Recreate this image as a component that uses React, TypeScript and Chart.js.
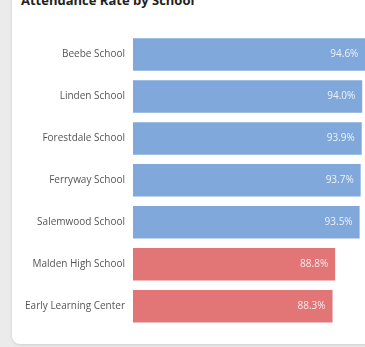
import React, { useEffect, useRef } from "react";
import { Chart, registerables } from "chart.js";

Chart.register(...registerables);

const schools = [
  "Beebe School",
  "Linden School",
  "Forestdale School",
  "Ferryway School",
  "Salemwood School",
  "Malden High School",
  "Early Learning Center",
];
const rates = [94.6, 94.0, 93.9, 93.7, 93.5, 88.8, 88.3];
const barColors = ["#80a8da", "#80a8da", "#80a8da", "#80a8da", "#80a8da", "#e27576", "#e27576"];
const axisMin = 50;
const axisMax = 100;

const valueLabels = {
  id: "valueLabels",
  afterDatasetsDraw(chart: any) {
    const ctx = chart.ctx;
    const meta = chart.getDatasetMeta(0);
    ctx.save();
    ctx.font = "10px 'Open Sans', sans-serif";
    ctx.fillStyle = "rgba(255,255,255,0.85)";
    ctx.textAlign = "right";
    ctx.textBaseline = "middle";
    meta.data.forEach((bar: any, i: number) => {
      ctx.fillText(rates[i].toFixed(1) + "%", bar.x - 7, bar.y);
    });
    ctx.restore();
  },
};

export default function App() {
  const ref = useRef<HTMLCanvasElement>(null);
  useEffect(() => {
    if (!ref.current) return;
    const chart = new Chart(ref.current, {
      type: "bar",
      data: {
        labels: schools,
        datasets: [
          {
            data: rates,
            backgroundColor: barColors,
            borderWidth: 0,
            barPercentage: 0.9,
            categoryPercentage: 0.86,
          },
        ],
      },
      options: {
        indexAxis: "y",
        responsive: false,
        animation: false,
        layout: { padding: { top: 33.5, bottom: 19.8, left: 0, right: 6.5 } },
        plugins: { legend: { display: false }, tooltip: { enabled: false }, title: { display: false } },
        scales: {
          x: { display: false, min: axisMin, max: axisMax },
          y: {
            grid: { display: false, drawTicks: false },
            border: { display: false },
            ticks: {
              padding: 8,
              color: "#555",
              font: { family: "'Open Sans', sans-serif", size: 10 },
            },
            afterFit(scale: any) {
              scale.width = 133;
            },
          },
        },
      },
      plugins: [valueLabels],
    });
    return () => chart.destroy();
  }, []);

  return (
    <div
      style={{
        position: "fixed",
        left: 0,
        top: 0,
        width: 365,
        height: 347,
        overflow: "hidden",
        background: "#ebebeb",
      }}
    >
      <div
        style={{
          position: "absolute",
          left: 12,
          top: -20,
          width: 400,
          height: 364,
          background: "#fff",
          borderRadius: 8,
          boxShadow: "0 1px 3px rgba(0,0,0,0.12)",
        }}
      />
      <div
        style={{
          position: "absolute",
          left: 21,
          top: -9,
          fontFamily: "'Open Sans', sans-serif",
          fontWeight: 700,
          fontSize: 13,
          color: "#222",
          whiteSpace: "nowrap",
        }}
      >
        Attendance Rate by School
      </div>
      <canvas
        ref={ref}
        width={400}
        height={347}
        style={{ position: "absolute", left: 0, top: 0, width: 400, height: 347 }}
      />
    </div>
  );
}
